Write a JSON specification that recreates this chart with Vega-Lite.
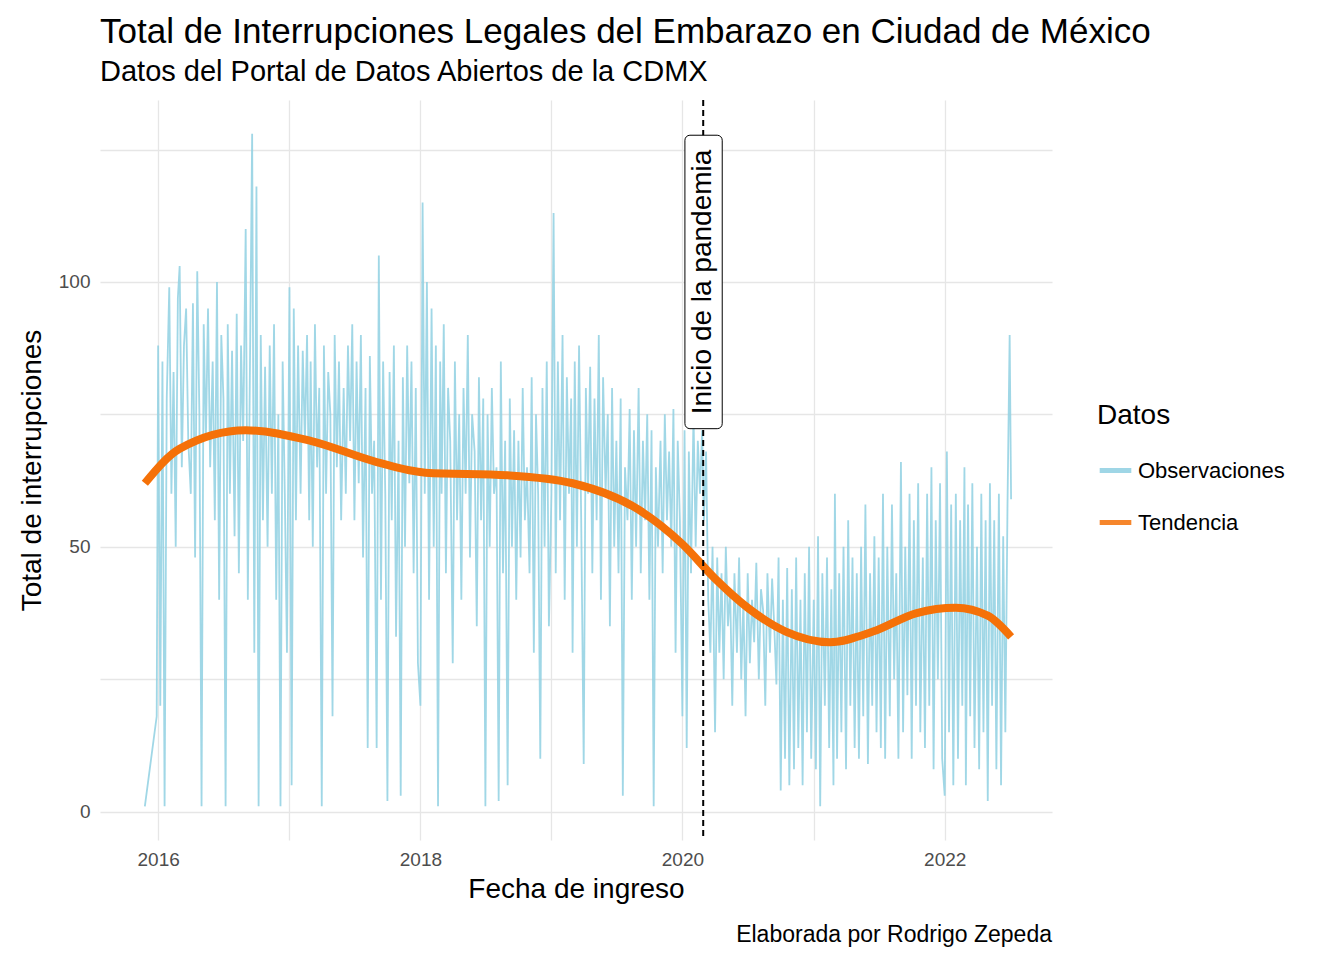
{
"$schema":"https://vega.github.io/schema/vega-lite/v6.json",
"width":952,"height":740,
"autosize":{"type":"none"},
"padding":{"left":100,"top":100,"right":292,"bottom":120},
"background":"white",
"title":{"text":"Total de Interrupciones Legales del Embarazo en Ciudad de México","subtitle":"Datos del Portal de Datos Abiertos de la CDMX","anchor":"start","frame":"group","font":"Liberation Sans","fontSize":35,"fontWeight":"normal","subtitleFont":"Liberation Sans","subtitleFontSize":29,"subtitlePadding":8,"color":"black","subtitleColor":"black","offset":12},
"config":{"view":{"stroke":null},"font":"Liberation Sans",
"axis":{"domain":false,"ticks":false,"gridColor":"#e6e6e6","gridWidth":1.3,"labelColor":"#4d4d4d","labelFontSize":19,"titleFontSize":28,"titleFontWeight":"normal","titleColor":"black","labelFont":"Liberation Sans","titleFont":"Liberation Sans"}},
"datasets":{
"trend":[{"d":"2015-11-25","v":62},{"d":"2016-03-01","v":68.5},{"d":"2016-09-01","v":72},{"d":"2017-03-01","v":70},{"d":"2017-09-01","v":66},{"d":"2018-01-15","v":64},{"d":"2018-09-01","v":63.5},{"d":"2019-03-01","v":62},{"d":"2019-09-01","v":57},{"d":"2020-01-01","v":50.5},{"d":"2020-04-01","v":44},{"d":"2020-07-01","v":38.5},{"d":"2020-10-15","v":34},{"d":"2021-02-15","v":32},{"d":"2021-06-15","v":34},{"d":"2021-10-15","v":37.5},{"d":"2022-02-01","v":38.5},{"d":"2022-05-01","v":37},{"d":"2022-07-05","v":33}],
"obs":[{"d":"2015-11-25","v":1},{"d":"2015-12-28","v":18},
{"d":"2016-01-01","v":88},{"d":"2016-01-07","v":20},{"d":"2016-01-13","v":85},{"d":"2016-01-19","v":1},{"d":"2016-01-25","v":78},
{"d":"2016-02-01","v":99},{"d":"2016-02-07","v":60},{"d":"2016-02-13","v":83},{"d":"2016-02-19","v":50},{"d":"2016-02-25","v":97},
{"d":"2016-03-01","v":103},{"d":"2016-03-07","v":65},{"d":"2016-03-13","v":88},{"d":"2016-03-19","v":95},{"d":"2016-03-25","v":70},
{"d":"2016-04-01","v":60},{"d":"2016-04-07","v":96},{"d":"2016-04-13","v":48},{"d":"2016-04-19","v":102},{"d":"2016-04-25","v":75},
{"d":"2016-05-01","v":1},{"d":"2016-05-07","v":92},{"d":"2016-05-13","v":70},{"d":"2016-05-19","v":95},{"d":"2016-05-25","v":65},
{"d":"2016-06-01","v":85},{"d":"2016-06-07","v":55},{"d":"2016-06-13","v":100},{"d":"2016-06-19","v":40},{"d":"2016-06-25","v":90},
{"d":"2016-07-01","v":78},{"d":"2016-07-07","v":1},{"d":"2016-07-13","v":92},{"d":"2016-07-19","v":60},{"d":"2016-07-25","v":87},
{"d":"2016-08-01","v":52},{"d":"2016-08-07","v":94},{"d":"2016-08-13","v":45},{"d":"2016-08-19","v":88},{"d":"2016-08-25","v":70},
{"d":"2016-09-01","v":110},{"d":"2016-09-07","v":40},{"d":"2016-09-13","v":85},{"d":"2016-09-19","v":128},{"d":"2016-09-25","v":30},
{"d":"2016-10-01","v":118},{"d":"2016-10-07","v":1},{"d":"2016-10-13","v":90},{"d":"2016-10-19","v":55},{"d":"2016-10-25","v":84},
{"d":"2016-11-01","v":50},{"d":"2016-11-07","v":88},{"d":"2016-11-13","v":60},{"d":"2016-11-19","v":92},{"d":"2016-11-25","v":40},
{"d":"2016-12-01","v":75},{"d":"2016-12-07","v":1},{"d":"2016-12-13","v":85},{"d":"2016-12-19","v":60},{"d":"2016-12-25","v":30},
{"d":"2017-01-01","v":99},{"d":"2017-01-07","v":5},{"d":"2017-01-13","v":95},{"d":"2017-01-19","v":55},{"d":"2017-01-25","v":88},
{"d":"2017-02-01","v":60},{"d":"2017-02-07","v":87},{"d":"2017-02-13","v":70},{"d":"2017-02-19","v":90},{"d":"2017-02-25","v":55},
{"d":"2017-03-01","v":85},{"d":"2017-03-07","v":50},{"d":"2017-03-13","v":92},{"d":"2017-03-19","v":65},{"d":"2017-03-25","v":80},
{"d":"2017-04-01","v":1},{"d":"2017-04-07","v":88},{"d":"2017-04-13","v":60},{"d":"2017-04-19","v":83},{"d":"2017-04-25","v":75},
{"d":"2017-05-01","v":18},{"d":"2017-05-07","v":90},{"d":"2017-05-13","v":65},{"d":"2017-05-19","v":85},{"d":"2017-05-25","v":55},
{"d":"2017-06-01","v":80},{"d":"2017-06-07","v":60},{"d":"2017-06-13","v":88},{"d":"2017-06-19","v":70},{"d":"2017-06-25","v":92},
{"d":"2017-07-01","v":55},{"d":"2017-07-07","v":85},{"d":"2017-07-13","v":62},{"d":"2017-07-19","v":90},{"d":"2017-07-25","v":48},
{"d":"2017-08-01","v":80},{"d":"2017-08-07","v":12},{"d":"2017-08-13","v":86},{"d":"2017-08-19","v":60},{"d":"2017-08-25","v":70},
{"d":"2017-09-01","v":12},{"d":"2017-09-07","v":105},{"d":"2017-09-13","v":40},{"d":"2017-09-19","v":85},{"d":"2017-09-25","v":60},
{"d":"2017-10-01","v":2},{"d":"2017-10-07","v":83},{"d":"2017-10-13","v":55},{"d":"2017-10-19","v":88},{"d":"2017-10-25","v":33},
{"d":"2017-11-01","v":70},{"d":"2017-11-07","v":3},{"d":"2017-11-13","v":82},{"d":"2017-11-19","v":50},{"d":"2017-11-25","v":88},
{"d":"2017-12-01","v":62},{"d":"2017-12-07","v":85},{"d":"2017-12-13","v":45},{"d":"2017-12-19","v":80},{"d":"2017-12-25","v":28},
{"d":"2018-01-01","v":20},{"d":"2018-01-07","v":115},{"d":"2018-01-13","v":60},{"d":"2018-01-19","v":100},{"d":"2018-01-25","v":40},
{"d":"2018-02-01","v":95},{"d":"2018-02-07","v":50},{"d":"2018-02-13","v":88},{"d":"2018-02-19","v":1},{"d":"2018-02-25","v":85},
{"d":"2018-03-01","v":60},{"d":"2018-03-07","v":92},{"d":"2018-03-13","v":45},{"d":"2018-03-19","v":80},{"d":"2018-03-25","v":70},
{"d":"2018-04-01","v":28},{"d":"2018-04-07","v":85},{"d":"2018-04-13","v":55},{"d":"2018-04-19","v":75},{"d":"2018-04-25","v":40},
{"d":"2018-05-01","v":80},{"d":"2018-05-07","v":60},{"d":"2018-05-13","v":90},{"d":"2018-05-19","v":48},{"d":"2018-05-25","v":75},
{"d":"2018-06-01","v":68},{"d":"2018-06-07","v":35},{"d":"2018-06-13","v":82},{"d":"2018-06-19","v":55},{"d":"2018-06-25","v":78},
{"d":"2018-07-01","v":1},{"d":"2018-07-07","v":75},{"d":"2018-07-13","v":50},{"d":"2018-07-19","v":80},{"d":"2018-07-25","v":60},
{"d":"2018-08-01","v":65},{"d":"2018-08-07","v":2},{"d":"2018-08-13","v":85},{"d":"2018-08-19","v":45},{"d":"2018-08-25","v":70},
{"d":"2018-09-01","v":5},{"d":"2018-09-07","v":78},{"d":"2018-09-13","v":50},{"d":"2018-09-19","v":72},{"d":"2018-09-25","v":40},
{"d":"2018-10-01","v":70},{"d":"2018-10-07","v":48},{"d":"2018-10-13","v":80},{"d":"2018-10-19","v":55},{"d":"2018-10-25","v":65},
{"d":"2018-11-01","v":45},{"d":"2018-11-07","v":82},{"d":"2018-11-13","v":30},{"d":"2018-11-19","v":75},{"d":"2018-11-25","v":60},
{"d":"2018-12-01","v":10},{"d":"2018-12-07","v":80},{"d":"2018-12-13","v":50},{"d":"2018-12-19","v":85},{"d":"2018-12-25","v":35},
{"d":"2019-01-01","v":60},{"d":"2019-01-07","v":113},{"d":"2019-01-13","v":45},{"d":"2019-01-19","v":85},{"d":"2019-01-25","v":55},
{"d":"2019-02-01","v":90},{"d":"2019-02-07","v":40},{"d":"2019-02-13","v":82},{"d":"2019-02-19","v":60},{"d":"2019-02-25","v":78},
{"d":"2019-03-01","v":30},{"d":"2019-03-07","v":85},{"d":"2019-03-13","v":50},{"d":"2019-03-19","v":88},{"d":"2019-03-25","v":55},
{"d":"2019-04-01","v":9},{"d":"2019-04-07","v":80},{"d":"2019-04-13","v":60},{"d":"2019-04-19","v":84},{"d":"2019-04-25","v":45},
{"d":"2019-05-01","v":78},{"d":"2019-05-07","v":55},{"d":"2019-05-13","v":90},{"d":"2019-05-19","v":40},{"d":"2019-05-25","v":82},
{"d":"2019-06-01","v":60},{"d":"2019-06-07","v":75},{"d":"2019-06-13","v":35},{"d":"2019-06-19","v":80},{"d":"2019-06-25","v":50},
{"d":"2019-07-01","v":70},{"d":"2019-07-07","v":45},{"d":"2019-07-13","v":78},{"d":"2019-07-19","v":3},{"d":"2019-07-25","v":65},
{"d":"2019-08-01","v":55},{"d":"2019-08-07","v":76},{"d":"2019-08-13","v":40},{"d":"2019-08-19","v":72},{"d":"2019-08-25","v":50},
{"d":"2019-09-01","v":80},{"d":"2019-09-07","v":45},{"d":"2019-09-13","v":70},{"d":"2019-09-19","v":55},{"d":"2019-09-25","v":75},
{"d":"2019-10-01","v":40},{"d":"2019-10-07","v":72},{"d":"2019-10-13","v":1},{"d":"2019-10-19","v":65},{"d":"2019-10-25","v":50},
{"d":"2019-11-01","v":70},{"d":"2019-11-07","v":45},{"d":"2019-11-13","v":75},{"d":"2019-11-19","v":55},{"d":"2019-11-25","v":68},
{"d":"2019-12-01","v":50},{"d":"2019-12-07","v":76},{"d":"2019-12-13","v":30},{"d":"2019-12-19","v":70},{"d":"2019-12-25","v":55},
{"d":"2020-01-01","v":18},{"d":"2020-01-07","v":72},{"d":"2020-01-13","v":12},{"d":"2020-01-19","v":68},{"d":"2020-01-25","v":45},
{"d":"2020-02-01","v":75},{"d":"2020-02-07","v":50},{"d":"2020-02-13","v":70},{"d":"2020-02-19","v":60},{"d":"2020-02-25","v":72},
{"d":"2020-03-01","v":55},{"d":"2020-03-07","v":68},{"d":"2020-03-13","v":40},{"d":"2020-03-19","v":30},{"d":"2020-03-25","v":50},
{"d":"2020-04-01","v":15},{"d":"2020-04-07","v":48},{"d":"2020-04-13","v":30},{"d":"2020-04-19","v":45},{"d":"2020-04-25","v":25},
{"d":"2020-05-01","v":50},{"d":"2020-05-07","v":35},{"d":"2020-05-13","v":42},{"d":"2020-05-19","v":20},{"d":"2020-05-25","v":45},
{"d":"2020-06-01","v":30},{"d":"2020-06-07","v":48},{"d":"2020-06-13","v":25},{"d":"2020-06-19","v":40},{"d":"2020-06-25","v":18},
{"d":"2020-07-01","v":45},{"d":"2020-07-07","v":28},{"d":"2020-07-13","v":40},{"d":"2020-07-19","v":32},{"d":"2020-07-25","v":47},
{"d":"2020-08-01","v":25},{"d":"2020-08-07","v":42},{"d":"2020-08-13","v":38},{"d":"2020-08-19","v":20},{"d":"2020-08-25","v":45},
{"d":"2020-09-01","v":30},{"d":"2020-09-07","v":44},{"d":"2020-09-13","v":35},{"d":"2020-09-19","v":24},{"d":"2020-09-25","v":48},
{"d":"2020-10-01","v":4},{"d":"2020-10-07","v":40},{"d":"2020-10-13","v":10},{"d":"2020-10-19","v":46},{"d":"2020-10-25","v":5},
{"d":"2020-11-01","v":42},{"d":"2020-11-07","v":8},{"d":"2020-11-13","v":48},{"d":"2020-11-19","v":12},{"d":"2020-11-25","v":40},
{"d":"2020-12-01","v":5},{"d":"2020-12-07","v":45},{"d":"2020-12-13","v":15},{"d":"2020-12-19","v":50},{"d":"2020-12-25","v":10},
{"d":"2021-01-01","v":40},{"d":"2021-01-07","v":8},{"d":"2021-01-13","v":52},{"d":"2021-01-19","v":1},{"d":"2021-01-25","v":45},
{"d":"2021-02-01","v":20},{"d":"2021-02-07","v":48},{"d":"2021-02-13","v":12},{"d":"2021-02-19","v":42},{"d":"2021-02-25","v":5},
{"d":"2021-03-01","v":60},{"d":"2021-03-07","v":10},{"d":"2021-03-13","v":45},{"d":"2021-03-19","v":15},{"d":"2021-03-25","v":50},
{"d":"2021-04-01","v":8},{"d":"2021-04-07","v":55},{"d":"2021-04-13","v":20},{"d":"2021-04-19","v":48},{"d":"2021-04-25","v":12},
{"d":"2021-05-01","v":45},{"d":"2021-05-07","v":10},{"d":"2021-05-13","v":50},{"d":"2021-05-19","v":18},{"d":"2021-05-25","v":58},
{"d":"2021-06-01","v":9},{"d":"2021-06-07","v":45},{"d":"2021-06-13","v":20},{"d":"2021-06-19","v":52},{"d":"2021-06-25","v":15},
{"d":"2021-07-01","v":48},{"d":"2021-07-07","v":12},{"d":"2021-07-13","v":60},{"d":"2021-07-19","v":10},{"d":"2021-07-25","v":50},
{"d":"2021-08-01","v":18},{"d":"2021-08-07","v":58},{"d":"2021-08-13","v":25},{"d":"2021-08-19","v":45},{"d":"2021-08-25","v":10},
{"d":"2021-09-01","v":66},{"d":"2021-09-07","v":15},{"d":"2021-09-13","v":50},{"d":"2021-09-19","v":22},{"d":"2021-09-25","v":60},
{"d":"2021-10-01","v":10},{"d":"2021-10-07","v":55},{"d":"2021-10-13","v":20},{"d":"2021-10-19","v":62},{"d":"2021-10-25","v":15},
{"d":"2021-11-01","v":48},{"d":"2021-11-07","v":12},{"d":"2021-11-13","v":60},{"d":"2021-11-19","v":20},{"d":"2021-11-25","v":65},
{"d":"2021-12-01","v":8},{"d":"2021-12-07","v":55},{"d":"2021-12-13","v":25},{"d":"2021-12-19","v":62},{"d":"2021-12-25","v":10},
{"d":"2022-01-01","v":3},{"d":"2022-01-07","v":68},{"d":"2022-01-13","v":15},{"d":"2022-01-19","v":58},{"d":"2022-01-25","v":5},
{"d":"2022-02-01","v":60},{"d":"2022-02-07","v":10},{"d":"2022-02-13","v":55},{"d":"2022-02-19","v":20},{"d":"2022-02-25","v":65},
{"d":"2022-03-01","v":5},{"d":"2022-03-07","v":58},{"d":"2022-03-13","v":18},{"d":"2022-03-19","v":62},{"d":"2022-03-25","v":12},
{"d":"2022-04-01","v":50},{"d":"2022-04-07","v":8},{"d":"2022-04-13","v":60},{"d":"2022-04-19","v":15},{"d":"2022-04-25","v":55},
{"d":"2022-05-01","v":2},{"d":"2022-05-07","v":62},{"d":"2022-05-13","v":20},{"d":"2022-05-19","v":55},{"d":"2022-05-25","v":8},
{"d":"2022-06-01","v":60},{"d":"2022-06-07","v":5},{"d":"2022-06-13","v":52},{"d":"2022-06-19","v":15},{"d":"2022-06-25","v":58},
{"d":"2022-07-01","v":90},{"d":"2022-07-05","v":59}]
},
"layer":[
{"data":{"name":"obs"},"mark":{"type":"line","strokeWidth":1.8,"opacity":0.85},
"encoding":{
"x":{"field":"d","type":"temporal","title":"Fecha de ingreso","scale":{"domain":["2015-07-23","2022-10-27"]},"axis":{"values":["2016-01-01","2017-01-01","2018-01-01","2019-01-01","2020-01-01","2021-01-01","2022-01-01"],"labelExpr":"year(datum.value)%2==0 ? timeFormat(datum.value,'%Y') : ''","labelPadding":10,"titlePadding":6}},
"y":{"field":"v","type":"quantitative","title":"Total de interrupciones","scale":{"domain":[-5.35,134.35],"nice":false,"zero":false},"axis":{"values":[0,25,50,75,100,125],"labelExpr":"datum.value%50==0 ? datum.label : ''","labelPadding":10,"titlePadding":12}},
"color":{"datum":"Observaciones","type":"nominal","scale":{"domain":["Observaciones","Tendencia"],"range":["#8fd0e2","#f57108"]},
"legend":{"title":"Datos","titleFontSize":28,"titleFontWeight":"normal","titleColor":"black","labelFontSize":22,"labelColor":"black","symbolType":"stroke","symbolSize":1000,"symbolStrokeWidth":5,"rowPadding":22,"titlePadding":22,"orient":"none","legendX":997,"legendY":302}}}},
{"data":{"name":"trend"},"mark":{"type":"line","strokeWidth":8,"interpolate":"monotone"},
"encoding":{"x":{"field":"d","type":"temporal"},"y":{"field":"v","type":"quantitative"},"color":{"datum":"Tendencia","type":"nominal"}}},
{"data":{"values":[{"d":"2020-02-28"}]},"mark":{"type":"rule","strokeDash":[6,4],"strokeWidth":2,"color":"black"},
"encoding":{"x":{"field":"d","type":"temporal"}}},
{"data":{"values":[{"a":"2020-01-08","b":"2020-04-21","y1":72.3,"y2":127.7}]},"mark":{"type":"rect","fill":"white","stroke":"black","strokeWidth":1,"cornerRadius":5},
"encoding":{"x":{"field":"a","type":"temporal"},"x2":{"field":"b"},"y":{"field":"y1","type":"quantitative"},"y2":{"field":"y2"}}},
{"data":{"values":[{"d":"2020-02-28","v":100,"t":"Inicio de la pandemia"}]},"mark":{"type":"text","angle":270,"fontSize":28,"font":"Liberation Sans","color":"black","align":"center","baseline":"middle"},
"encoding":{"x":{"field":"d","type":"temporal"},"y":{"field":"v","type":"quantitative"},"text":{"field":"t"}}},
{"data":{"values":[{"d":"2022-10-27","v":-5.35,"t":"Elaborada por Rodrigo Zepeda"}]},"mark":{"type":"text","align":"right","baseline":"alphabetic","dy":102,"fontSize":23,"font":"Liberation Sans","color":"black"},
"encoding":{"x":{"field":"d","type":"temporal"},"y":{"field":"v","type":"quantitative"},"text":{"field":"t"}}}
]
}
